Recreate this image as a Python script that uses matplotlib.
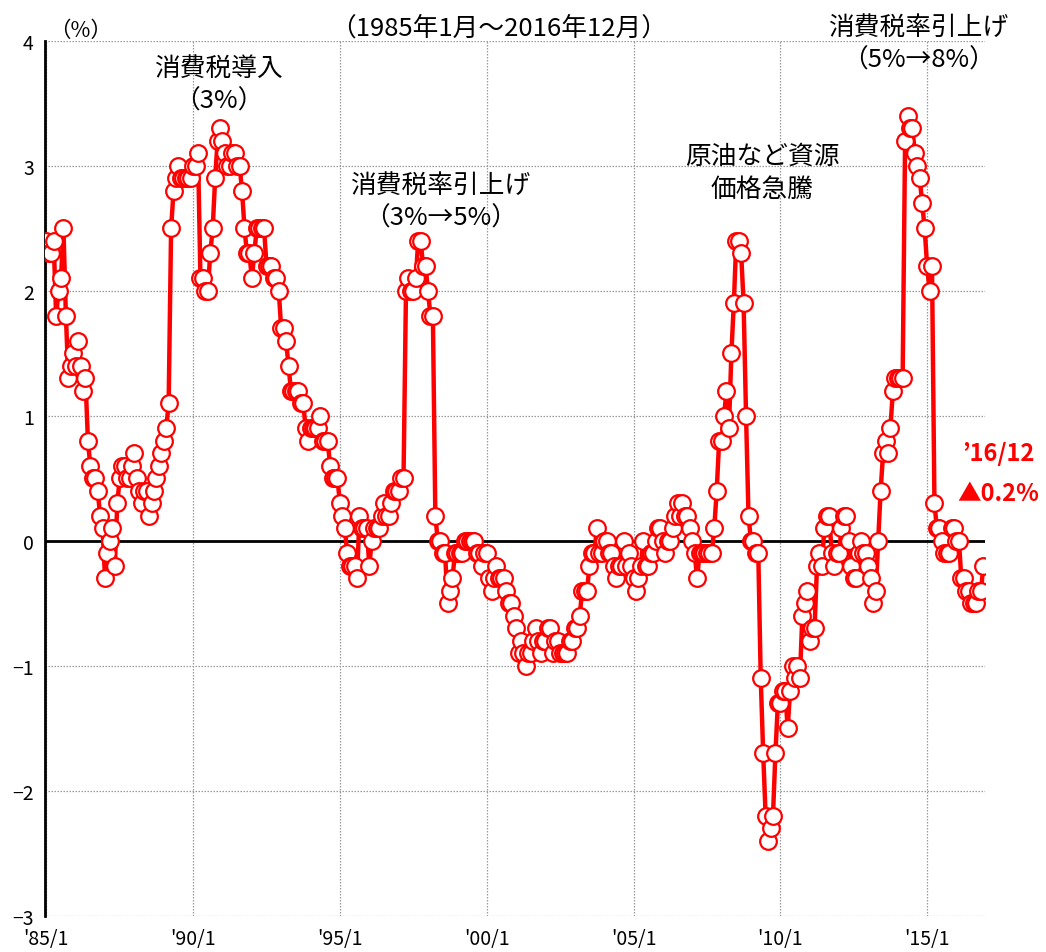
import numpy as np
import matplotlib
matplotlib.use("Agg")
import matplotlib.pyplot as plt

plt.rcParams['font.family'] = ['Noto Sans CJK JP', 'DejaVu Sans']

# Year-on-year change of consumer prices (%), monthly, 1985/1 - 2016/12
y1985 = [2.4, 2.3, 2.3, 2.4, 1.8, 2.0, 2.1, 2.5, 1.8, 1.3, 1.4, 1.5]
y1986 = [1.4, 1.6, 1.4, 1.2, 1.3, 0.8, 0.6, 0.5, 0.5, 0.4, 0.2, 0.1]
y1987 = [-0.3, -0.1, 0.0, 0.1, -0.2, 0.3, 0.5, 0.6, 0.6, 0.5, 0.5, 0.6]
y1988 = [0.7, 0.5, 0.4, 0.3, 0.4, 0.4, 0.2, 0.3, 0.4, 0.5, 0.6, 0.7]
y1989 = [0.8, 0.9, 1.1, 2.5, 2.8, 2.9, 3.0, 2.9, 2.9, 2.9, 2.9, 2.9]
y1990 = [3.0, 3.0, 3.1, 2.1, 2.1, 2.0, 2.0, 2.3, 2.5, 2.9, 3.2, 3.3]
y1991 = [3.2, 3.1, 3.0, 3.0, 3.1, 3.1, 3.0, 3.0, 2.8, 2.5, 2.3, 2.3]
y1992 = [2.1, 2.3, 2.5, 2.5, 2.5, 2.5, 2.2, 2.2, 2.2, 2.1, 2.1, 2.0]
y1993 = [1.7, 1.7, 1.6, 1.4, 1.2, 1.2, 1.2, 1.2, 1.1, 1.1, 0.9, 0.8]
y1994 = [0.9, 0.9, 0.9, 0.9, 1.0, 0.8, 0.8, 0.8, 0.6, 0.5, 0.5, 0.5]
y1995 = [0.3, 0.2, 0.1, -0.1, -0.2, -0.2, -0.2, -0.3, 0.2, 0.1, 0.1, 0.1]
y1996 = [-0.2, 0.0, 0.1, 0.1, 0.1, 0.2, 0.3, 0.2, 0.2, 0.3, 0.4, 0.4]
y1997 = [0.4, 0.5, 0.5, 2.0, 2.1, 2.0, 2.0, 2.1, 2.4, 2.4, 2.2, 2.2]
y1998 = [2.0, 1.8, 1.8, 0.2, 0.0, 0.0, -0.1, -0.1, -0.5, -0.4, -0.3, -0.1]
y1999 = [-0.1, -0.1, -0.1, 0.0, 0.0, 0.0, 0.0, 0.0, -0.1, -0.1, -0.2, -0.1]
y2000 = [-0.1, -0.3, -0.4, -0.3, -0.2, -0.3, -0.3, -0.3, -0.4, -0.5, -0.5, -0.6]
y2001 = [-0.7, -0.9, -0.8, -0.9, -1.0, -0.9, -0.9, -0.8, -0.7, -0.8, -0.9, -0.8]
y2002 = [-0.8, -0.7, -0.7, -0.9, -0.8, -0.8, -0.9, -0.9, -0.9, -0.9, -0.8, -0.8]
y2003 = [-0.7, -0.7, -0.6, -0.4, -0.4, -0.4, -0.2, -0.1, -0.1, 0.1, -0.1, -0.1]
y2004 = [0.0, 0.0, -0.1, -0.1, -0.2, -0.3, -0.2, -0.2, 0.0, -0.2, -0.1, -0.2]
y2005 = [-0.3, -0.4, -0.3, -0.2, 0.0, -0.2, -0.2, -0.1, -0.1, 0.0, 0.1, 0.1]
y2006 = [0.0, -0.1, 0.0, 0.0, 0.1, 0.2, 0.3, 0.2, 0.3, 0.2, 0.2, 0.1]
y2007 = [0.0, -0.1, -0.3, -0.1, -0.1, -0.1, -0.1, -0.1, -0.1, 0.1, 0.4, 0.8]
y2008 = [0.8, 1.0, 1.2, 0.9, 1.5, 1.9, 2.4, 2.4, 2.3, 1.9, 1.0, 0.2]
y2009 = [0.0, 0.0, -0.1, -0.1, -1.1, -1.7, -2.2, -2.4, -2.3, -2.2, -1.7, -1.3]
y2010 = [-1.3, -1.2, -1.2, -1.5, -1.2, -1.0, -1.1, -1.0, -1.1, -0.6, -0.5, -0.4]
y2011 = [-0.8, -0.7, -0.7, -0.2, -0.1, -0.2, 0.1, 0.2, 0.2, -0.1, -0.2, -0.1]
y2012 = [-0.1, 0.1, 0.2, 0.2, 0.0, -0.2, -0.3, -0.3, -0.1, 0.0, -0.1, -0.1]
y2013 = [-0.2, -0.3, -0.5, -0.4, 0.0, 0.4, 0.7, 0.8, 0.7, 0.9, 1.2, 1.3]
y2014 = [1.3, 1.3, 1.3, 3.2, 3.4, 3.3, 3.3, 3.1, 3.0, 2.9, 2.7, 2.5]
y2015 = [2.2, 2.0, 2.2, 0.3, 0.1, 0.1, 0.0, -0.1, -0.1, -0.1, 0.1, 0.1]
y2016 = [0.0, 0.0, -0.3, -0.3, -0.4, -0.4, -0.5, -0.5, -0.5, -0.4, -0.4, -0.2]

yearly = [y1985, y1986, y1987, y1988, y1989, y1990, y1991, y1992,
          y1993, y1994, y1995, y1996, y1997, y1998, y1999, y2000,
          y2001, y2002, y2003, y2004, y2005, y2006, y2007, y2008,
          y2009, y2010, y2011, y2012, y2013, y2014, y2015, y2016]
values = np.concatenate(yearly)
months = np.arange(len(values))

tick_labels = ["'85/1", "'90/1", "'95/1", "'00/1", "'05/1", "'10/1", "'15/1"]
tick_months = [0, 60, 120, 180, 240, 300, 360]

annotations = [
    ("消費税導入\n（3%）", 70.3, 3.65),
    ("消費税率引上げ\n（3%→5%）", 161, 2.72),
    ("原油など資源\n価格急騰", 292.6, 2.95),
    ("消費税率引上げ\n（5%→8%）", 356.4, 3.98),
]

last_label = "’16/12"
last_value_label = "▲0.2%"

RED = "#ff0000"

fig = plt.figure(figsize=(10.46, 9.53), dpi=100)
ax = fig.add_axes([0.043, 0.038, 0.899, 0.918])

ax.set_xlim(-0.55, 383.8)
ax.set_ylim(-3, 4)

ax.set_yticks(range(-3, 5))
ax.set_yticklabels([str(v).replace('-', '−') for v in range(-3, 5)])
ax.set_xticks(tick_months)
ax.set_xticklabels(tick_labels)
ax.tick_params(axis='both', length=0, labelsize=14)
ax.tick_params(axis='x', pad=9)
ax.tick_params(axis='y', pad=8)

ax.grid(True, color="#9a9a9a", linestyle=(0, (1.2, 1.2)), linewidth=0.9)
ax.set_axisbelow(True)
for side in ("top", "right", "bottom"):
    ax.spines[side].set_visible(False)
ax.spines["left"].set_linewidth(2.0)
ax.spines["left"].set_color("black")

ax.axhline(0, color="black", linewidth=2.0, zorder=2)

ax.plot(months, values, color=RED, linewidth=3.2, marker="o",
        markersize=12, markerfacecolor="white", markeredgecolor=RED,
        markeredgewidth=1.6, zorder=3, solid_joinstyle="round")

for text, xm, yv in annotations:
    ax.text(xm, yv, text, ha="center", va="center", fontsize=18.5,
            linespacing=1.33, zorder=4, clip_on=False)

ax.text(0.004, 1.0, "（%）", transform=ax.transAxes, ha="left",
        va="bottom", fontsize=15.5)
ax.text(0.482, 1.0, "（1985年1月～2016年12月）", transform=ax.transAxes,
        ha="center", va="bottom", fontsize=18.5)

ax.text(389, 0.70, last_label, color=RED, fontsize=17, fontweight="bold",
        ha="center", va="center", clip_on=False)
ax.text(389, 0.38, last_value_label, color=RED, fontsize=17,
        fontweight="bold", ha="center", va="center", clip_on=False)

fig.savefig("out.png", dpi=100)
